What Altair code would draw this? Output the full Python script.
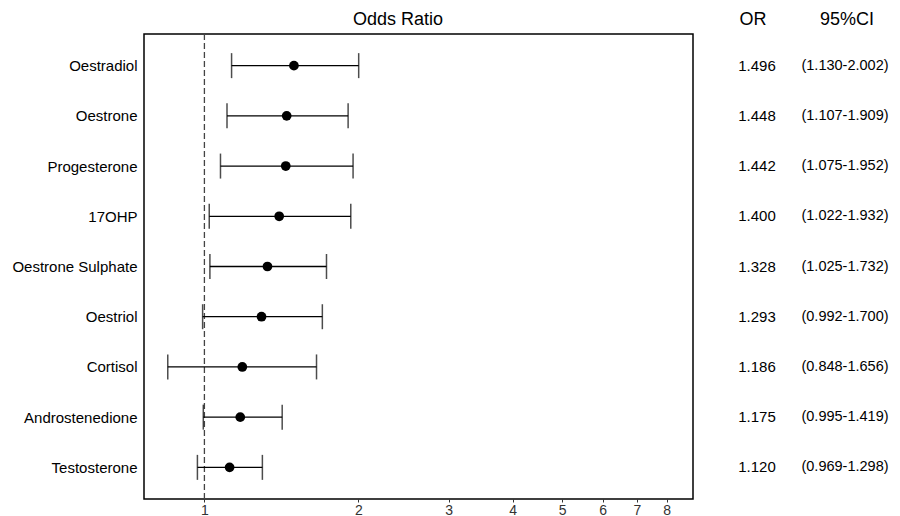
import altair as alt
import pandas as pd

hormones = ["Oestradiol", "Oestrone", "Progesterone", "17OHP", "Oestrone Sulphate",
            "Oestriol", "Cortisol", "Androstenedione", "Testosterone"]
odds = [1.496, 1.448, 1.442, 1.400, 1.328, 1.293, 1.186, 1.175, 1.120]
lower = [1.130, 1.107, 1.075, 1.022, 1.025, 0.992, 0.848, 0.995, 0.969]
upper = [2.002, 1.909, 1.952, 1.932, 1.732, 1.700, 1.656, 1.419, 1.298]
x_ticks = [1, 2, 3, 4, 5, 6, 7, 8]

df = pd.DataFrame({"hormone": hormones, "or": odds, "lo": lower, "hi": upper})
df["or_txt"] = [f"{v:.3f}" for v in odds]
df["ci_txt"] = [f"({a:.3f}-{b:.3f})" for a, b in zip(lower, upper)]

FONT = "Liberation Sans"

xs = alt.Scale(type="log", domain=[0.762, 9.01], nice=False, zero=False)
ys = alt.Scale(type="point", domain=hormones, padding=0.63)

x_axis = alt.Axis(values=x_ticks, format="d", title=None, grid=False, domain=False,
                  ticks=True, tickSize=3, tickColor="#333", labelColor="#333",
                  labelFontSize=14, labelPadding=1, labelFont=FONT)
y_axis = alt.Axis(title=None, ticks=False, domain=False, labelFontSize=15,
                  labelColor="#000", labelPadding=7, labelFont=FONT, labelLimit=300)

base = alt.Chart(df)

ref = alt.Chart(pd.DataFrame({"x": [1]})).mark_rule(
    color="#444", strokeDash=[6, 3], strokeWidth=1.3
).encode(x=alt.X("x:Q", scale=xs, axis=x_axis))

bars = base.mark_rule(color="#000", strokeWidth=1.3).encode(
    x=alt.X("lo:Q", scale=xs, axis=x_axis),
    x2="hi:Q",
    y=alt.Y("hormone:N", scale=ys, axis=y_axis, sort=hormones),
)
cap_lo = base.mark_tick(color="#000", orient="vertical", size=25, thickness=1.5).encode(
    x=alt.X("lo:Q", scale=xs), y=alt.Y("hormone:N", scale=ys, sort=hormones))
cap_hi = base.mark_tick(color="#000", orient="vertical", size=25, thickness=1.5).encode(
    x=alt.X("hi:Q", scale=xs), y=alt.Y("hormone:N", scale=ys, sort=hormones))
pts = base.mark_circle(color="#000", opacity=1, size=95).encode(
    x=alt.X("or:Q", scale=xs), y=alt.Y("hormone:N", scale=ys, sort=hormones))

or_txt = base.mark_text(font=FONT, fontSize=15, color="#000", align="center").encode(
    x=alt.value(613), y=alt.Y("hormone:N", scale=ys, sort=hormones), text="or_txt:N")
ci_txt = base.mark_text(font=FONT, fontSize=14.5, color="#000", align="center").encode(
    x=alt.value(701), y=alt.Y("hormone:N", scale=ys, sort=hormones), text="ci_txt:N")

headers = pd.DataFrame({"label": ["Odds Ratio", "OR", "95%CI"],
                        "px": [254, 609, 703]})
head = alt.Chart(headers).mark_text(font=FONT, fontSize=18, color="#000",
                                    align="center", baseline="alphabetic").encode(
    x=alt.X("px:Q", scale=None), y=alt.value(-9), text="label:N")

chart = alt.layer(ref, bars, cap_lo, cap_hi, pts, or_txt, ci_txt, head).properties(
    width=549, height=465,
    autosize=alt.AutoSizeParams(type="none"),
    padding={"left": 136, "top": 26, "right": 199, "bottom": 20},
).configure(
    font=FONT,
    view=alt.ViewConfig(stroke="#000", strokeWidth=1.5),
)

chart.save("out.html", embed_options={"renderer": "svg", "actions": False})
